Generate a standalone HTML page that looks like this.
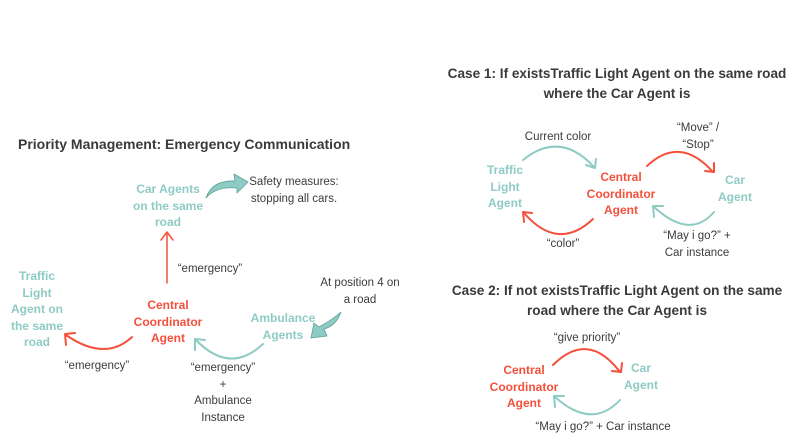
<!DOCTYPE html>
<html><head><meta charset="utf-8"><style>
html,body{margin:0;padding:0;background:#fff;}
body{width:804px;height:447px;position:relative;overflow:hidden;font-family:"Liberation Sans",sans-serif;}
.t{position:absolute;white-space:nowrap;text-align:center;transform:translateX(-50%);line-height:16.5px;font-size:11.5px;color:#3c3c3c;}
.h{position:absolute;white-space:nowrap;text-align:center;font-weight:bold;font-size:13.6px;color:#3a3a3a;line-height:19.5px;}
.g{font-weight:bold;color:#8ecbc4;font-size:12px;}
.r{font-weight:bold;color:#f4503c;font-size:12px;}
svg{position:absolute;left:0;top:0;}
</style></head><body>
<svg width="804" height="447" viewBox="0 0 804 447" fill="none" stroke-linecap="round" stroke-linejoin="round">
<path d="M167 283 L167 233" stroke="#f4503c" stroke-width="1.5"/>
<path d="M161 240 L167 232 L173 240" stroke="#f4503c" stroke-width="1.5"/>
<path d="M132 337 Q105 362 66 335" stroke="#f4503c" stroke-width="2"/>
<path d="M66 345 L65 334 L75 333" stroke="#f4503c" stroke-width="2"/>
<path d="M263 344 Q230 375 196 340" stroke="#8ecbc4" stroke-width="2"/>
<path d="M195 350 L195 339 L205 340" stroke="#8ecbc4" stroke-width="2"/>
<path d="M206 198 Q212 180 235 181 L234 174 L248 182 L237 193 L237 188 Q216 186 206 198 Z" fill="#8ecbc4" stroke="#5e9e98" stroke-width="0.8"/>
<path d="M341 312 Q336 326 324 329 L327 336 L311 338 L314 323 L319 327 Q332 320 341 312 Z" fill="#8ecbc4" stroke="#5e9e98" stroke-width="0.8"/>
<path d="M523 160 Q560 130 594 167" stroke="#8ecbc4" stroke-width="2"/>
<path d="M586 165 L595 168 L596 159" stroke="#8ecbc4" stroke-width="2"/>
<path d="M593 219 Q558 252 524 213" stroke="#f4503c" stroke-width="2"/>
<path d="M524 222 L523 212 L532 213" stroke="#f4503c" stroke-width="2"/>
<path d="M647 166 Q680 135 713 172" stroke="#f4503c" stroke-width="2"/>
<path d="M705 171 L714 172 L714 163" stroke="#f4503c" stroke-width="2"/>
<path d="M714 212 Q690 240 654 207" stroke="#8ecbc4" stroke-width="2"/>
<path d="M654 217 L653 206 L663 206" stroke="#8ecbc4" stroke-width="2"/>
<path d="M553 365 Q588 330 620 372" stroke="#f4503c" stroke-width="2"/>
<path d="M612 371 L621 372 L622 363" stroke="#f4503c" stroke-width="2"/>
<path d="M620 400 Q592 430 555 397" stroke="#8ecbc4" stroke-width="2"/>
<path d="M555 407 L554 396 L564 396" stroke="#8ecbc4" stroke-width="2"/>
</svg>

<div class="h" style="left:18px;top:135px;font-size:14px;">Priority Management: Emergency Communication</div>
<div class="t g" style="left:168px;top:181px;">Car Agents<br>on the same<br>road</div>
<div class="t" style="left:294px;top:174px;">Safety measures:<br>stopping all cars.</div>
<div class="t" style="left:210px;top:261px;">“emergency”</div>
<div class="t g" style="left:37px;top:268px;">Traffic<br>Light<br>Agent on<br>the same<br>road</div>
<div class="t r" style="left:168px;top:297px;">Central<br>Coordinator<br>Agent</div>
<div class="t" style="left:97px;top:358px;">“emergency”</div>
<div class="t" style="left:360px;top:275px;">At position 4 on<br>a road</div>
<div class="t g" style="left:283px;top:310px;">Ambulance<br>Agents</div>
<div class="t" style="left:223px;top:360px;">“emergency”<br>+<br>Ambulance<br>Instance</div>

<div class="h" style="left:430px;width:374px;top:64px;">Case 1: If existsTraffic Light Agent on the same road<br>where the Car Agent is</div>
<div class="t" style="left:558px;top:129px;">Current color</div>
<div class="t g" style="left:505px;top:162px;">Traffic<br>Light<br>Agent</div>
<div class="t r" style="left:621px;top:169px;">Central<br>Coordinator<br>Agent</div>
<div class="t g" style="left:735px;top:172px;">Car<br>Agent</div>
<div class="t" style="left:698px;top:120px;">“Move” /<br>“Stop”</div>
<div class="t" style="left:563px;top:236px;">“color”</div>
<div class="t" style="left:697px;top:228px;">“May i go?” +<br>Car instance</div>

<div class="h" style="left:430px;width:374px;top:281px;">Case 2: If not existsTraffic Light Agent on the same<br>road where the Car Agent is</div>
<div class="t" style="left:587px;top:330px;">“give priority”</div>
<div class="t r" style="left:524px;top:362px;">Central<br>Coordinator<br>Agent</div>
<div class="t g" style="left:641px;top:360px;">Car<br>Agent</div>
<div class="t" style="left:603px;top:419px;">“May i go?” + Car instance</div>
</body></html>
